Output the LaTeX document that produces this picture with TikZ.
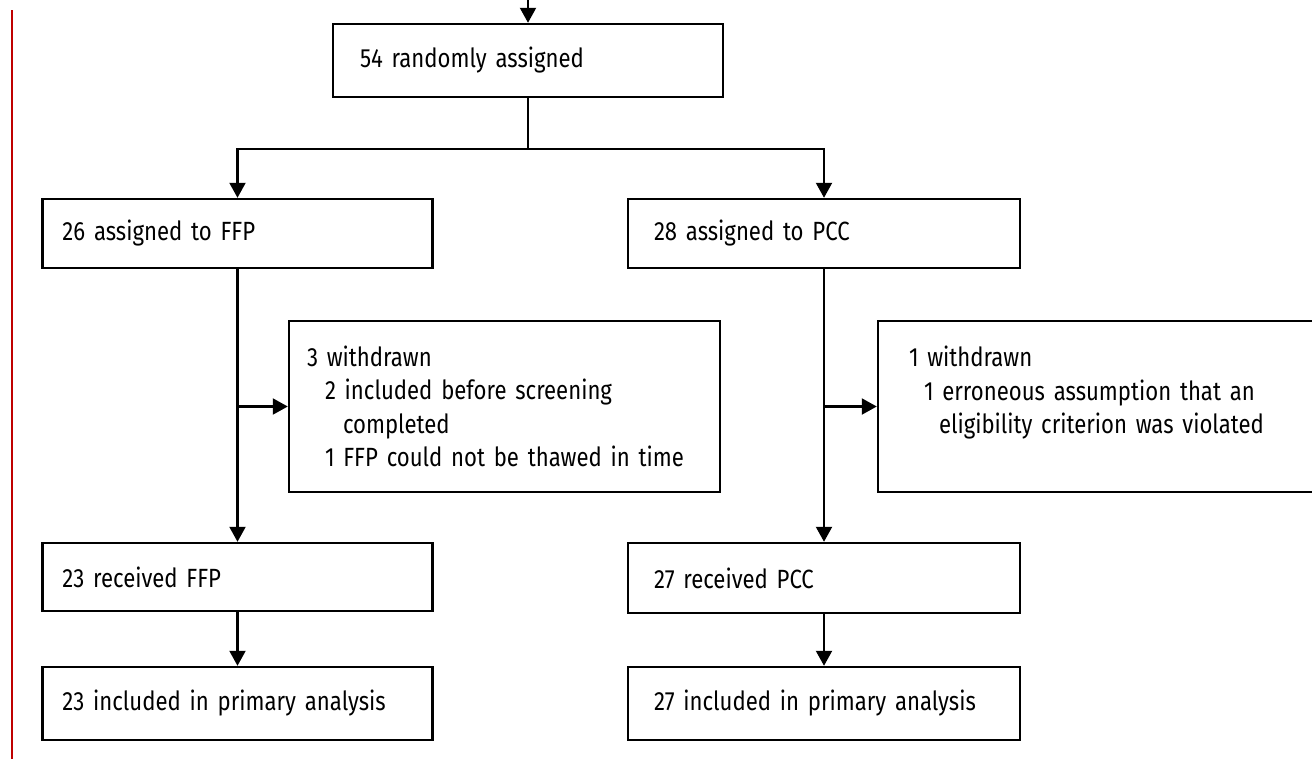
\documentclass[tikz,border=0pt]{standalone}
\usepackage{fontspec}
\setmainfont[FakeStretch=0.84]{Fira Sans}
\usetikzlibrary{arrows.meta}
\newcommand\flowfont{\fontsize{15}{19}\selectfont\spaceskip=0.2em plus 0.05em\relax\hyphenpenalty=10000\relax}

\begin{document}
\begin{tikzpicture}[font=\flowfont,
box/.style={draw, line width=1.4pt, text width=#1, align=left, inner xsep=0.4cm, inner ysep=0.2cm},
box/.default=7cm,
arr/.style={line width=1.2pt, -{Triangle[length=0.3cm, width=0.32cm]}},
link/.style={line width=1.2pt}]
\useasboundingbox (0,0) rectangle (26.24,-15.18);
\draw[line width=1.4pt, red!75!black] (0.24,-0.2) -- (0.24,-15.18);

\node[box=6.72cm, inner xsep=0.54cm, minimum height=1.46cm] (rand) at (10.56,-1.21) {54 randomly assigned};
\node[box, minimum height=1.38cm] (ffp) at (4.75,-4.67) {26 assigned to FFP};
\node[box=6.8cm, inner xsep=0.52cm, minimum height=1.38cm] (pcc) at (16.48,-4.67) {28 assigned to PCC};

\node[box=7.9cm, minimum height=3.42cm, inner xsep=0.36cm] (wdffp) at (10.09,-8.13)
  {3 withdrawn\\
   \hspace*{0.36cm}2 included before screening\\
   \hspace*{0.72cm}completed\\
   \hspace*{0.36cm}1 FFP could not be thawed in time};
\node[box=7.6cm, minimum height=3.42cm, inner xsep=0.62cm] (wdpcc) at (21.98,-8.13)
  {1 withdrawn\\
   \hspace*{0.3cm}1 erroneous assumption that an\\
   \hspace*{0.6cm}eligibility criterion was violated\\
   \mbox{}};

\node[box, minimum height=1.36cm] (ffprec) at (4.75,-11.54) {23 received FFP};
\node[box=6.8cm, inner xsep=0.52cm, minimum height=1.4cm] (pccrec) at (16.48,-11.56) {27 received PCC};
\node[box, minimum height=1.46cm] (ffpinc) at (4.75,-14.07) {23 included in primary analysis};
\node[box=6.8cm, inner xsep=0.52cm, minimum height=1.46cm] (pccinc) at (16.48,-14.07) {27 included in primary analysis};

% connectors
\coordinate (in) at (rand.north |- 0,0);
\draw[arr] (in) -- (rand.north);
\draw[link] (rand.south) -- ++(0,-1.02) coordinate (split);
\draw[arr] (split) -| (ffp.north);
\draw[arr] (split) -| (pcc.north);
\draw[arr] (ffp.south) -- (ffprec.north);
\draw[arr] (ffp.south |- wdffp.west) -- (wdffp.west);
\draw[arr] (pcc.south) -- (pccrec.north);
\draw[arr] (pcc.south |- wdpcc.west) -- (wdpcc.west);
\draw[arr] (ffprec.south) -- (ffpinc.north);
\draw[arr] (pccrec.south) -- (pccinc.north);
\end{tikzpicture}
\end{document}
